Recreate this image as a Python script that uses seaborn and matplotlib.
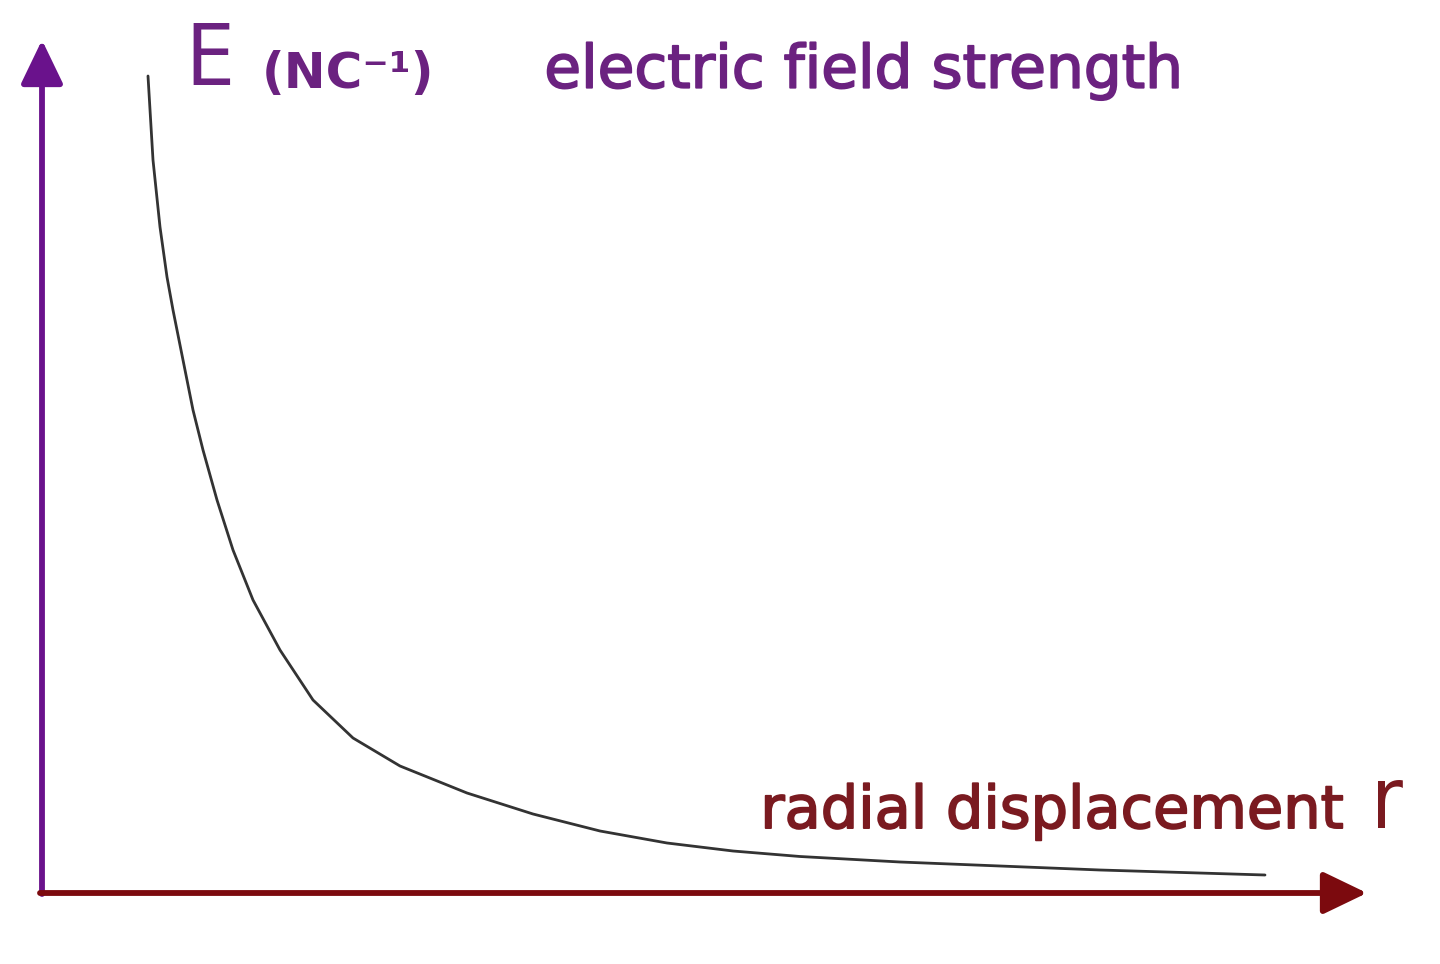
import matplotlib
matplotlib.use("Agg")
import matplotlib.pyplot as plt
import matplotlib.patheffects as pe
import seaborn as sns
import pandas as pd

# curve (arbitrary units: r along the axis, E up the axis)
r_vals = [1.06, 1.11, 1.18, 1.25, 1.31, 1.41, 1.51, 1.61, 1.75, 1.91, 2.11, 2.38, 2.71,
          3.11, 3.58, 4.25, 4.91, 5.58, 6.25, 6.91, 7.58, 8.58, 9.58, 10.58, 12.23]
e_vals = [8.16, 7.32, 6.65, 6.15, 5.82, 5.32, 4.82, 4.42, 3.92, 3.42, 2.92, 2.42, 1.92,
          1.54, 1.26, 0.99, 0.78, 0.61, 0.49, 0.41, 0.355, 0.30, 0.26, 0.22, 0.17]

x_axis_end = 13.25
y_axis_end = 8.52

purple = "#6a128c"
purple_text = "#6b2280"
red = "#7c0a0e"
red_text = "#7a1a20"

df = pd.DataFrame({"r": r_vals, "E": e_vals})

sns.set_theme(style="white")
plt.rcParams["font.family"] = ["DejaVu Sans"]

fig = plt.figure(figsize=(14.4, 9.64), dpi=100)
ax = fig.add_axes([0, 0, 1, 1])
ax.set_xlim(-0.42, 13.98)
ax.set_ylim(-0.72, 8.92)
ax.axis("off")

# the curve
sns.lineplot(data=df, x="r", y="E", color="#333333", linewidth=2.0, ax=ax)

# axes as arrows
ax.annotate("", xy=(0, y_axis_end), xytext=(0, -0.02),
            arrowprops=dict(arrowstyle="-|>,head_length=1.35,head_width=0.65",
                            mutation_scale=20, color=purple, lw=4.2,
                            shrinkA=0, shrinkB=0))
ax.annotate("", xy=(x_axis_end, -0.01), xytext=(-0.02, -0.01),
            arrowprops=dict(arrowstyle="-|>,head_length=1.35,head_width=0.65",
                            mutation_scale=20, color=red, lw=4.2,
                            shrinkA=0, shrinkB=0))

# labels
heavy_p = [pe.withStroke(linewidth=1.3, foreground=purple_text)]
heavy_r = [pe.withStroke(linewidth=1.3, foreground=red_text)]

fig.text(0.129, 0.912, "E", color=purple_text, fontsize=62,
         va="baseline", ha="left", fontstretch="condensed")
fig.text(0.182, 0.909, "(NC\u207b\u00b9)", color=purple_text, fontsize=36,
         fontweight="bold", va="baseline", ha="left")
fig.text(0.378, 0.909, "electric field strength", color=purple_text, fontsize=43,
         va="baseline", ha="left", path_effects=heavy_p)
fig.text(0.528, 0.141, "radial displacement", color=red_text, fontsize=42.5,
         va="baseline", ha="left", path_effects=heavy_r)
fig.text(0.952, 0.141, "r", color=red_text, fontsize=62,
         va="baseline", ha="left", fontstretch="condensed")

fig.savefig("out.png", dpi=100, facecolor="white")
